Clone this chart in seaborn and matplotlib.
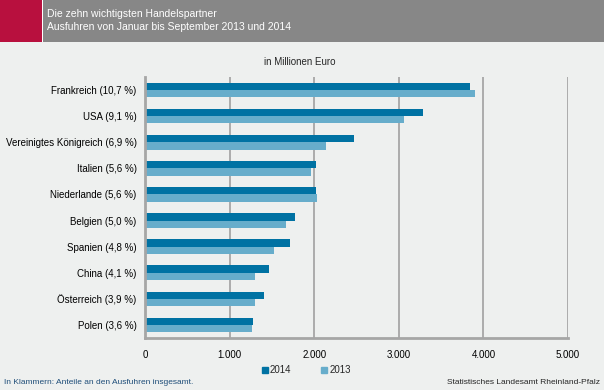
import numpy as np
import pandas as pd
import matplotlib
matplotlib.use("Agg")
import matplotlib.pyplot as plt
import seaborn as sns
from matplotlib.patches import Rectangle
from matplotlib.lines import Line2D

# DATA
laender = ["Frankreich (10,7 %)", "USA (9,1 %)", "Vereinigtes Königreich (6,9 %)",
           "Italien (5,6 %)", "Niederlande (5,6 %)", "Belgien (5,0 %)",
           "Spanien (4,8 %)", "China (4,1 %)", "Österreich (3,9 %)", "Polen (3,6 %)"]
werte_2014 = [3840, 3290, 2470, 2020, 2020, 1775, 1715, 1465, 1405, 1275]
werte_2013 = [3900, 3060, 2140, 1960, 2035, 1665, 1525, 1300, 1300, 1265]
jahre = ["2014", "2013"]

BG = "#EEF0EF"
C14 = "#0072A3"
C13 = "#67ADCB"
GRID = "#A6A6A6"

df = pd.DataFrame({
    "land": laender * 2,
    "wert": werte_2014 + werte_2013,
    "jahr": ["2014"] * len(laender) + ["2013"] * len(laender),
})

sns.set_style("white")
plt.rcParams["font.family"] = ["Liberation Sans", "DejaVu Sans"]

fig = plt.figure(figsize=(6.04, 3.9), dpi=100, facecolor=BG)
ax = fig.add_axes([145 / 604, 1 - 338 / 390, 423 / 604, 261 / 390])
ax.set_facecolor(BG)

sns.barplot(data=df, y="land", x="wert", hue="jahr", hue_order=jahre,
            palette=[C14, C13], order=laender, width=0.56, orient="h",
            saturation=1, linewidth=0, ax=ax, legend=False)

ax.set_xlim(0, 5000)
ax.set_ylim(len(laender) - 0.5, -0.5)
ax.set_xticks([0, 1000, 2000, 3000, 4000, 5000])
ax.set_xticklabels(["0", "1.000", "2.000", "3.000", "4.000", "5.000"])
ax.set_xlabel("")
ax.set_ylabel("")
ax.xaxis.grid(True, color=GRID, linewidth=1.3)
ax.set_axisbelow(True)
ax.tick_params(axis="x", length=0, labelsize=7, pad=9, colors="black")
ax.tick_params(axis="y", which="major", length=0, labelsize=7, pad=6, colors="black")
ax.set_yticks(np.arange(-0.5, len(laender) + 0.5, 1), minor=True)
ax.tick_params(axis="y", which="minor", length=3, width=1.5, color=GRID, direction="out")

for s in ["top", "right"]:
    ax.spines[s].set_visible(False)
for s in ["left", "bottom"]:
    ax.spines[s].set_color(GRID)
    ax.spines[s].set_linewidth(2)

# header band
fig.patches.append(Rectangle((0, 1 - 42 / 390), 1, 42 / 390, transform=fig.transFigure,
                             facecolor="#878787", edgecolor="none", zorder=0))
fig.patches.append(Rectangle((0, 1 - 42 / 390), 42 / 604, 42 / 390, transform=fig.transFigure,
                             facecolor="#B8103E", edgecolor="none", zorder=1))
fig.patches.append(Rectangle((42 / 604, 1 - 42 / 390), 1.2 / 604, 42 / 390, transform=fig.transFigure,
                             facecolor="white", edgecolor="none", zorder=2))
fig.text(47 / 604, 1 - 14 / 390, "Die zehn wichtigsten Handelspartner", color="white",
         fontsize=7.5, va="center", ha="left")
fig.text(47 / 604, 1 - 27 / 390, "Ausfuhren von Januar bis September 2013 und 2014", color="white",
         fontsize=7.5, va="center", ha="left")

fig.text(300 / 604, 1 - 62 / 390, "in Millionen Euro", fontsize=7, ha="center", va="center")

handles = [Line2D([], [], marker="s", linestyle="none", color=C14, markersize=4),
           Line2D([], [], marker="s", linestyle="none", color=C13, markersize=4)]
fig.legend(handles, jahre, loc="center", bbox_to_anchor=(306 / 604, 1 - 370 / 390), ncol=2,
           frameon=False, fontsize=7, handletextpad=0.1, columnspacing=3, handlelength=0.8)

fig.text(4 / 604, 1 - 382 / 390, "In Klammern: Anteile an den Ausfuhren insgesamt.",
         fontsize=6, ha="left", va="center", color="#1F4E79")
fig.text(600 / 604, 1 - 382 / 390, "Statistisches Landesamt Rheinland-Pfalz",
         fontsize=6, ha="right", va="center")

fig.savefig("out.png", dpi=100, facecolor=BG)
